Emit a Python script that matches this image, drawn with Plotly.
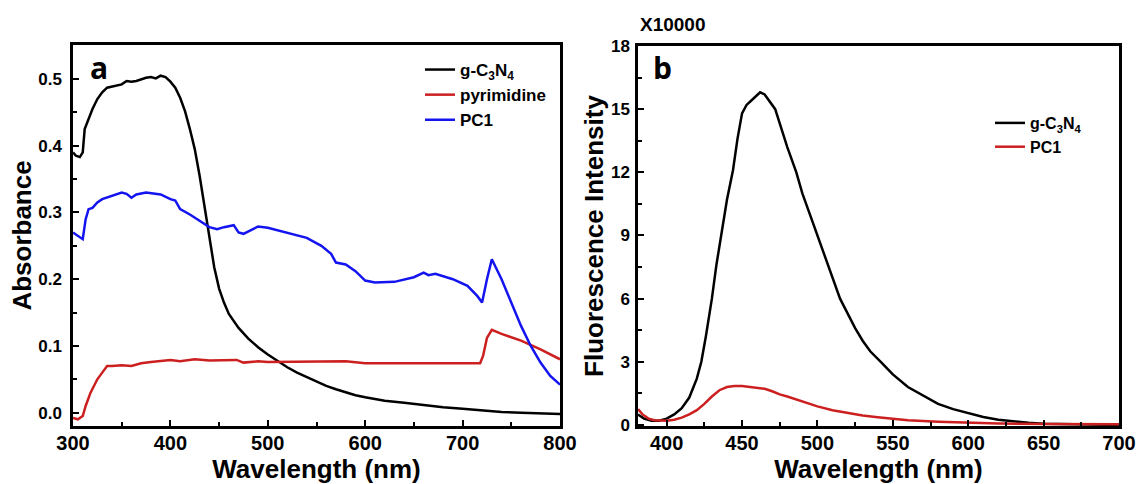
import plotly.graph_objects as go

# ---------------- Panel a: absorbance ----------------
abs_g_x = [300, 303, 307, 310, 312, 316, 320, 325, 330, 335, 340, 345, 350, 355, 360, 365, 370, 375, 380, 385,
           390, 395, 400, 405, 410, 415, 420, 425, 430, 435, 440, 445, 450, 455, 460, 465, 470, 480, 490, 500,
           510, 520, 530, 540, 550, 560, 570, 580, 590, 600, 620, 640, 660, 680, 700, 720, 740, 760, 780, 800]
abs_g_y = [0.39, 0.385, 0.383, 0.39, 0.425, 0.44, 0.455, 0.47, 0.48, 0.487, 0.489, 0.49, 0.492, 0.497, 0.496,
           0.497, 0.50, 0.502, 0.503, 0.501, 0.505, 0.503, 0.496, 0.487, 0.472, 0.452, 0.425, 0.395, 0.355, 0.31,
           0.26, 0.218, 0.186, 0.165, 0.148, 0.137, 0.127, 0.111, 0.098, 0.087, 0.077, 0.068, 0.06, 0.053, 0.046,
           0.04, 0.035, 0.03, 0.026, 0.023, 0.018, 0.015, 0.011, 0.008, 0.006, 0.003, 0.001, 0.0, -0.001, -0.002]

abs_p_x = [300, 305, 310, 313, 318, 325, 330, 335, 340, 350, 360, 370, 380, 390, 400, 410, 425, 440, 460, 468,
           475, 490, 500, 550, 580, 600, 650, 700, 718, 721, 725, 730, 740, 760, 780, 800]
abs_p_y = [-0.008, -0.01, -0.005, 0.01, 0.03, 0.05, 0.06, 0.07, 0.07, 0.071, 0.07, 0.074, 0.076, 0.078, 0.079,
           0.077, 0.08, 0.078, 0.079, 0.079, 0.075, 0.077, 0.076, 0.076, 0.077, 0.074, 0.074, 0.073, 0.074, 0.085,
           0.112, 0.124, 0.118, 0.108, 0.095, 0.08]

abs_c_x = [300, 305, 310, 313, 316, 320, 325, 330, 340, 350, 355, 360, 365, 375, 390, 400, 405, 410, 420, 430,
           440, 448, 455, 465, 470, 475, 480, 490, 500, 520, 540, 555, 565, 570, 580, 590, 600, 610, 630, 650,
           660, 665, 672, 690, 705, 715, 720, 725, 730, 740, 750, 760, 770, 780, 790, 800]
abs_c_y = [0.27, 0.265, 0.26, 0.29, 0.305, 0.307, 0.315, 0.32, 0.325, 0.33, 0.328, 0.322, 0.327, 0.33, 0.327,
           0.32, 0.318, 0.305, 0.297, 0.288, 0.278, 0.275, 0.278, 0.281, 0.27, 0.268, 0.272, 0.279, 0.277, 0.27,
           0.262, 0.25, 0.238, 0.225, 0.222, 0.212, 0.198, 0.195, 0.196, 0.203, 0.21, 0.206, 0.208, 0.2, 0.19,
           0.175, 0.165, 0.2, 0.23, 0.2, 0.165, 0.13, 0.1, 0.075, 0.055, 0.042]

# ---------------- Panel b: fluorescence (x10000) ----------------
fl_g_x = [381, 385, 390, 395, 400, 405, 410, 415, 420, 423, 426, 430, 433, 436, 440, 444, 447, 450, 453, 456,
          459, 462, 465, 468, 472, 476, 480, 486, 490, 495, 500, 505, 510, 515, 520, 525, 530, 535, 542, 550,
          560, 570, 580, 590, 600, 610, 620, 630, 640, 650, 660, 680, 700]
fl_g_y = [0.5, 0.3, 0.2, 0.2, 0.3, 0.5, 0.8, 1.3, 2.2, 3.0, 4.2, 6.0, 7.6, 9.0, 10.7, 12.1, 13.6, 14.8, 15.2,
          15.4, 15.6, 15.8, 15.7, 15.4, 15.0, 14.1, 13.2, 12.0, 11.0, 10.0, 9.0, 8.0, 6.9, 6.0, 5.3, 4.6, 4.0,
          3.5, 3.0, 2.4, 1.8, 1.4, 1.0, 0.75, 0.55, 0.38, 0.25, 0.16, 0.1, 0.06, 0.04, 0.02, 0.0]

fl_c_x = [381, 384, 388, 392, 400, 405, 410, 415, 420, 425, 430, 435, 440, 445, 450, 455, 460, 465, 470, 475,
          480, 490, 500, 510, 520, 530, 540, 550, 560, 580, 600, 620, 650, 700]
fl_c_y = [0.75, 0.5, 0.3, 0.22, 0.2, 0.25, 0.35, 0.5, 0.7, 1.0, 1.35, 1.65, 1.8, 1.85, 1.85, 1.8, 1.78, 1.72,
          1.6, 1.45, 1.35, 1.1, 0.88, 0.7, 0.57, 0.45, 0.37, 0.3, 0.22, 0.15, 0.1, 0.07, 0.05, 0.03]

abs_xticks = [300, 400, 500, 600, 700, 800]
abs_xminor = [350, 450, 550, 650, 750]
abs_yticks = [0.0, 0.1, 0.2, 0.3, 0.4, 0.5]
abs_yminor = [0.05, 0.15, 0.25, 0.35, 0.45]
fl_xticks = [400, 450, 500, 550, 600, 650, 700]
fl_xminor = [425, 475, 525, 575, 625, 675]
fl_yticks = [0, 3, 6, 9, 12, 15, 18]
fl_yminor = [1.5, 4.5, 7.5, 10.5, 13.5, 16.5]

BLACK = "#000000"
RED = "#cc2020"
BLUE = "#1414f0"
FONT = "Liberation Sans"

fig = go.Figure()
fig.add_trace(go.Scatter(x=abs_g_x, y=abs_g_y, mode="lines", name="<b>g-C<sub>3</sub>N<sub>4</sub></b>",
                         line=dict(color=BLACK, width=2.5), xaxis="x", yaxis="y", legend="legend"))
fig.add_trace(go.Scatter(x=abs_p_x, y=abs_p_y, mode="lines", name="<b>pyrimidine</b>",
                         line=dict(color=RED, width=2.5), xaxis="x", yaxis="y", legend="legend"))
fig.add_trace(go.Scatter(x=abs_c_x, y=abs_c_y, mode="lines", name="<b>PC1</b>",
                         line=dict(color=BLUE, width=2.5), xaxis="x", yaxis="y", legend="legend"))
fig.add_trace(go.Scatter(x=fl_g_x, y=fl_g_y, mode="lines", name="<b>g-C<sub>3</sub>N<sub>4</sub></b>",
                         line=dict(color=BLACK, width=2.5), xaxis="x2", yaxis="y2", legend="legend2"))
fig.add_trace(go.Scatter(x=fl_c_x, y=fl_c_y, mode="lines", name="<b>PC1</b>",
                         line=dict(color=RED, width=2.5), xaxis="x2", yaxis="y2", legend="legend2"))

axis_common = dict(showline=True, linecolor="black", linewidth=2.5, mirror=True, ticks="inside",
                   ticklen=6, tickwidth=2, tickcolor="black", showgrid=False, zeroline=False,
                   automargin=False)


def minor(vals):
    return dict(tickmode="array", tickvals=vals, ticks="inside", ticklen=4, tickwidth=1.5,
                tickcolor="black", showgrid=False)


fig.update_layout(
    width=1137, height=484,
    margin=dict(l=0, r=0, t=0, b=0),
    paper_bgcolor="white", plot_bgcolor="white",
    font=dict(family=FONT, color="black"),
    xaxis=dict(domain=[73/1137, 560/1137], range=[300, 800], tickvals=abs_xticks,
               ticktext=["<b>%d</b>" % v for v in abs_xticks], tickfont=dict(size=20),
               ticklabelstandoff=-3, minor=minor(abs_xminor),
               title=dict(text="<b>Wavelength (nm)</b>", font=dict(size=26), standoff=2),
               anchor="y", **axis_common),
    yaxis=dict(domain=[1-426/484, 1-45/484], range=[-0.02, 0.551], tickvals=abs_yticks,
               ticktext=["<b>%.1f</b>" % v for v in abs_yticks], tickfont=dict(size=17),
               ticklabelstandoff=5, minor=minor(abs_yminor),
               title=dict(text="<b>Absorbance</b>", font=dict(size=26), standoff=0),
               anchor="x", **axis_common),
    xaxis2=dict(domain=[638/1137, 1119/1137], range=[381, 700], tickvals=fl_xticks,
                ticktext=["<b>%d</b>" % v for v in fl_xticks], tickfont=dict(size=20),
                ticklabelstandoff=-3, minor=minor(fl_xminor),
                title=dict(text="<b>Wavelength (nm)</b>", font=dict(size=26), standoff=2),
                anchor="y2", **axis_common),
    yaxis2=dict(domain=[1-426/484, 1-46/484], range=[-0.05, 18], tickvals=fl_yticks,
                ticktext=["<b>%d</b>" % v for v in fl_yticks], tickfont=dict(size=17),
                ticklabelstandoff=2, minor=minor(fl_yminor),
                title=dict(text="<b>Fluorescence Intensity</b>", font=dict(size=26), standoff=0),
                anchor="x2", **axis_common),
    legend=dict(x=420/1137, y=1-52/484, xanchor="left", yanchor="top", bgcolor="rgba(0,0,0,0)",
                font=dict(size=17, family=FONT), tracegroupgap=0, itemwidth=30),
    legend2=dict(x=990/1137, y=1-106/484, xanchor="left", yanchor="top", bgcolor="rgba(0,0,0,0)",
                 font=dict(size=16, family=FONT), tracegroupgap=0, itemwidth=30),
    showlegend=True,
    annotations=[
        dict(text="<b>a</b>", x=88/1137, y=1-68/484, xref="paper", yref="paper", xanchor="left",
             yanchor="middle", showarrow=False, font=dict(size=30, family="Open Sans")),
        dict(text="<b>b</b>", x=651/1137, y=1-68/484, xref="paper", yref="paper", xanchor="left",
             yanchor="middle", showarrow=False, font=dict(size=30, family="Open Sans")),
        dict(text="<b>X10000</b>", x=638/1137, y=1-25/484, xref="paper", yref="paper", xanchor="left",
             yanchor="middle", showarrow=False, font=dict(size=19, family=FONT)),
    ],
)

fig.write_html("out.html", config={"displayModeBar": False},
               post_script="document.body.style.margin='0px';")
